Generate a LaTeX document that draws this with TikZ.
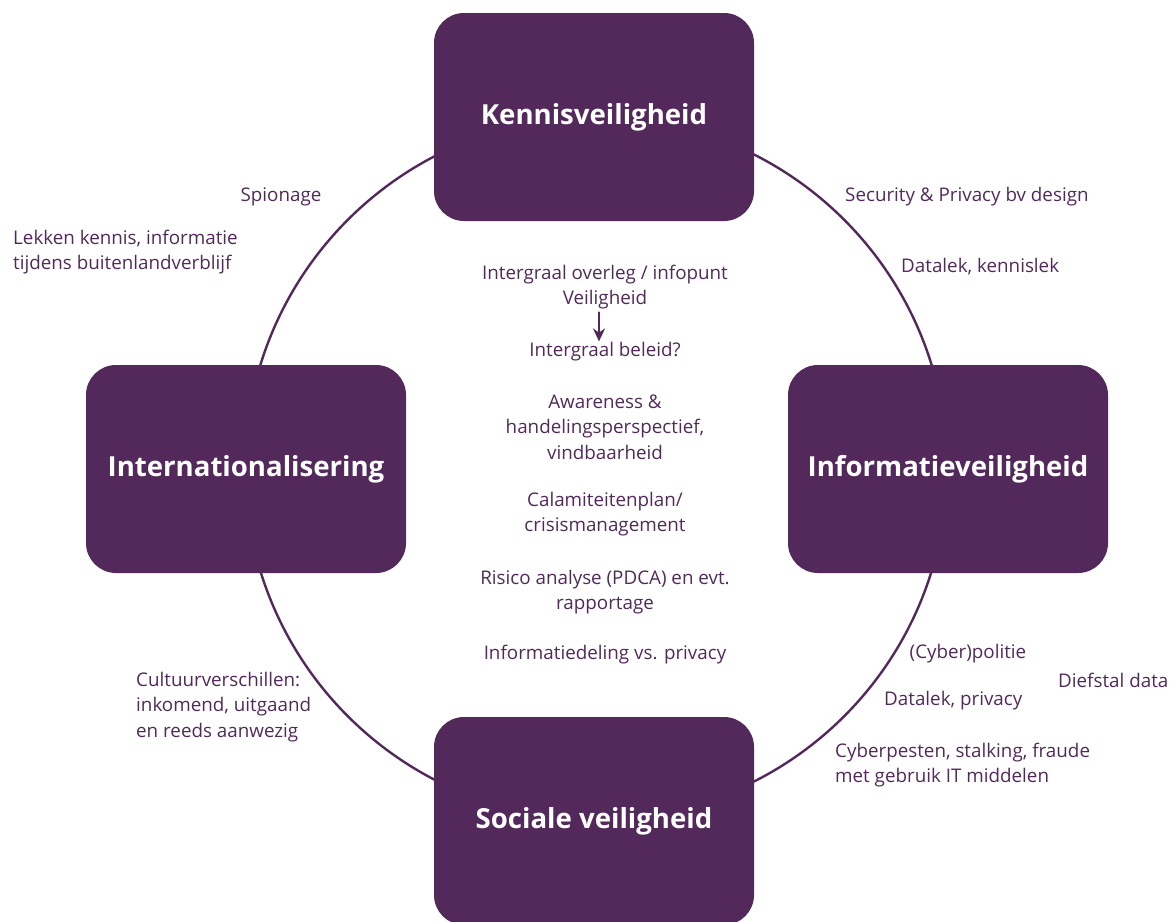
\documentclass[tikz,border=0pt]{standalone}
\usepackage{fontspec}
\setmainfont{Open Sans}
\usetikzlibrary{arrows.meta}
\definecolor{paars}{HTML}{52295A}

\begin{document}
\begin{tikzpicture}[x=1pt, y=-1pt, >=Stealth, line join=round, line cap=round,
    font=\fontsize{18.8}{25.6}\selectfont, text=paars,
    blok/.style={fill=paars, rounded corners=30pt, minimum width=320pt, minimum height=208pt,
        text=white, font=\fontsize{27.6}{30}\selectfont\bfseries},
    tekst/.style={align=center, inner sep=0pt},
    links/.style={align=left, inner sep=0pt, anchor=west}]
    \useasboundingbox (0, 0) rectangle (1172, 921);

    % Cirkel achter de blokken
    \def\straal{351}
    \coordinate (M) at (596, 468);
    \draw[paars, line width=2.4pt] (M) circle [radius=\straal pt];

    % Vier blokken
    \node[blok] (kennis) at (594, 117) {Kennisveiligheid};
    \node[blok] (inter) at (246, 469) {Internationalisering};
    \node[blok] (info) at (948, 469) {Informatieveiligheid};
    \node[blok] (sociaal) at (594, 821) {Sociale veiligheid};

    % Teksten buiten de cirkel
    \node[tekst] (spion) at (281, 197) {Spionage};
    \node[links] (lekken) at (13, 252) {Lekken kennis, informatie\\tijdens buitenlandverblijf};
    \node[links] (secu) at (845, 197) {Security \& Privacy bv design};
    \node[links] (datakennis) at (901, 267) {Datalek, kennislek};
    \node[links] (cultuur) at (136, 707) {Cultuurverschillen:\\inkomend, uitgaand\\en reeds aanwezig};
    \node[tekst] (politie) at (968, 654) {(Cyber)politie};
    \node[links] (diefstal) at (1058, 680) {Diefstal data};
    \node[links] (dataprivacy) at (884, 701) {Datalek, privacy};
    \node[links] (pesten) at (835, 765) {Cyberpesten, stalking, fraude\\met gebruik IT middelen};

    % Midden
    \node[tekst] (overleg) at (605, 287) {Intergraal overleg / infopunt\\Veiligheid};
    \node[tekst] (beleid) at (605, 352) {Intergraal beleid?};
    \node[tekst] (aware) at (605, 427) {Awareness \&\\handelingsperspectief,\\vindbaarheid};
    \node[tekst] (calam) at (605, 514) {Calamiteitenplan/\\crisismanagement};
    \node[tekst] (risico) at (605, 592) {Risico analyse (PDCA) en evt.\\rapportage};
    \node[tekst] (deling) at (605, 655) {Informatiedeling vs. privacy};

    \draw[-{Stealth[length=13pt, width=12pt]}, paars, line width=2.2pt, shorten <=3pt, shorten >=1pt]
        ([xshift=-6pt]overleg.south) -- ([xshift=-6pt]beleid.north);
\end{tikzpicture}
\end{document}
